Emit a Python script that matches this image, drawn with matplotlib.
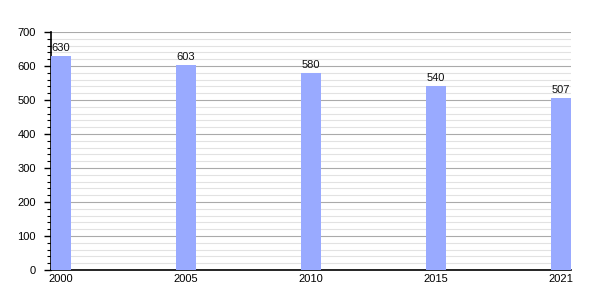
import matplotlib
matplotlib.use("Agg")
import matplotlib.pyplot as plt
import numpy as np

plt.rcParams["font.family"] = ["Liberation Sans", "DejaVu Sans"]

years = ["2000", "2005", "2010", "2015", "2021"]
values = [630, 603, 580, 540, 507]

fig = plt.figure(figsize=(6, 3), dpi=100)
ax = fig.add_axes([0.085, 0.1, 0.867, 0.793])
x = np.arange(len(years))
ax.set_axisbelow(True)
ax.bar(x, values, width=0.16, color="#99aaff", zorder=3)
for xi, v in zip(x, values):
    ax.text(xi, v + 9, str(v), ha="center", va="bottom", fontsize=8, color="#111111")
ax.set_xlim(-0.08, 4.08)
ax.set_ylim(0, 700)
ax.set_xticks(x)
ax.set_xticklabels(years, fontsize=8)
ax.set_yticks(np.arange(0, 701, 100))
ax.set_yticks(np.arange(0, 701, 20), minor=True)
ax.tick_params(axis="y", labelsize=8, length=5, width=1, pad=6)
ax.tick_params(axis="y", which="minor", length=3, width=0.8)
ax.tick_params(axis="x", length=0, pad=3)
ax.grid(axis="y", which="major", color="#aaaaaa", linewidth=0.8)
ax.grid(axis="y", which="minor", color="#e2e2e2", linewidth=0.8)
ax.spines["top"].set_visible(False)
ax.spines["right"].set_visible(False)
ax.spines["left"].set_linewidth(1.2)
ax.spines["bottom"].set_linewidth(1.2)
fig.savefig("out.png", dpi=100)
